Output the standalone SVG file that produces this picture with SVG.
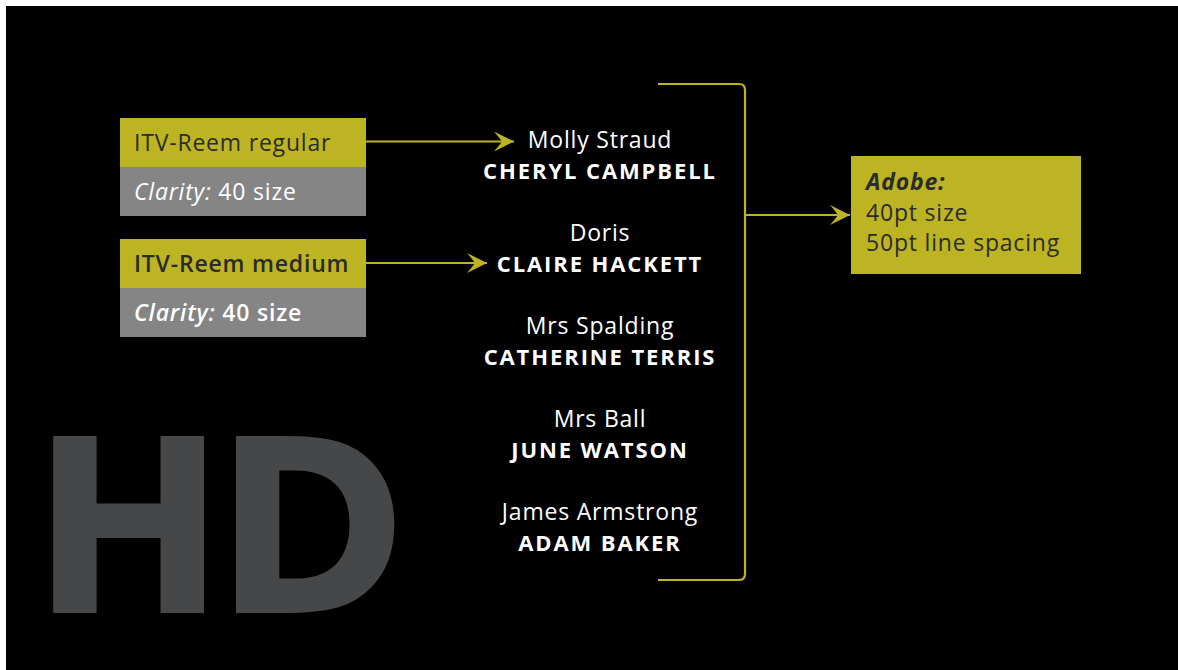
<svg xmlns="http://www.w3.org/2000/svg" width="1178" height="670" viewBox="0 0 1178 670">
<style>
.bg{fill:#000}
.ybox{fill:#BDB423}
.gbox{fill:#858585}
.dk{fill:#2b2b2b;font-family:"Open Sans","Noto Sans",sans-serif;font-size:23px;letter-spacing:0.8px}
.wt{fill:#ffffff;font-family:"Open Sans","Noto Sans",sans-serif;font-size:23px;letter-spacing:0.8px}
.nm{fill:#ffffff;font-family:"Open Sans","Noto Sans",sans-serif;font-size:23px;text-anchor:middle;letter-spacing:0.8px}
.nb{fill:#ffffff;font-family:"Open Sans","Noto Sans",sans-serif;font-size:22px;font-weight:700;text-anchor:middle;letter-spacing:1.9px}
.ln{fill:none;stroke:#BDB423;stroke-width:2.2}
.hd{fill:#464748;font-family:"DejaVu Sans",sans-serif;font-weight:700;font-size:243px;letter-spacing:-11px}
</style>
<defs>
<marker id="ah" markerUnits="userSpaceOnUse" markerWidth="22" markerHeight="22" viewBox="0 0 22 22" refX="20" refY="11" orient="auto">
<path d="M20,11 L0,1 Q6,8 8,11 Q6,14 0,21 Z" fill="#BDB423"/>
</marker>
</defs>
<rect class="bg" x="6" y="6" width="1172" height="664"/>
<g id="hd"><text class="hd" transform="translate(53 613) scale(0.95 1)" x="-22" y="0">HD</text></g>
<g id="box-regular">
<rect class="ybox" x="120" y="118" width="246" height="49"/>
<rect class="gbox" x="120" y="167" width="246" height="49"/>
<text class="dk" x="134" y="151">ITV-Reem regular</text>
<text class="wt" x="134" y="200"><tspan font-style="italic">Clarity:</tspan> 40 size</text>
</g>
<g id="box-medium">
<rect class="ybox" x="120" y="239" width="246" height="49"/>
<rect class="gbox" x="120" y="288" width="246" height="49"/>
<text class="dk" x="134" y="272" font-weight="600">ITV-Reem medium</text>
<text class="wt" x="134" y="321" font-weight="600"><tspan font-style="italic">Clarity:</tspan> 40 size</text>
</g>
<g id="names">
<text class="nm" x="600" y="148">Molly Straud</text>
<text class="nb" x="600" y="179">CHERYL CAMPBELL</text>
<text class="nm" x="600" y="241">Doris</text>
<text class="nb" x="600" y="272">CLAIRE HACKETT</text>
<text class="nm" x="600" y="334">Mrs Spalding</text>
<text class="nb" x="600" y="365">CATHERINE TERRIS</text>
<text class="nm" x="600" y="427">Mrs Ball</text>
<text class="nb" x="600" y="458">JUNE WATSON</text>
<text class="nm" x="600" y="520">James Armstrong</text>
<text class="nb" x="600" y="551">ADAM BAKER</text>
</g>
<g id="box-adobe">
<rect class="ybox" x="851" y="156" width="230" height="118"/>
<text class="dk" x="866" y="190" font-weight="700" font-style="italic">Adobe:</text>
<text class="dk" x="866" y="221">40pt size</text>
<text class="dk" x="866" y="251">50pt line spacing</text>
</g>
<g id="connectors">
<path class="ln" d="M366,141.5 H514" marker-end="url(#ah)"/>
<path class="ln" d="M366,263 H487" marker-end="url(#ah)"/>
<path class="ln" d="M658,84 H739 Q745,84 745,90 V574 Q745,580 739,580 H658"/>
<path class="ln" d="M745,215 H850" marker-end="url(#ah)"/>
</g>
</svg>
